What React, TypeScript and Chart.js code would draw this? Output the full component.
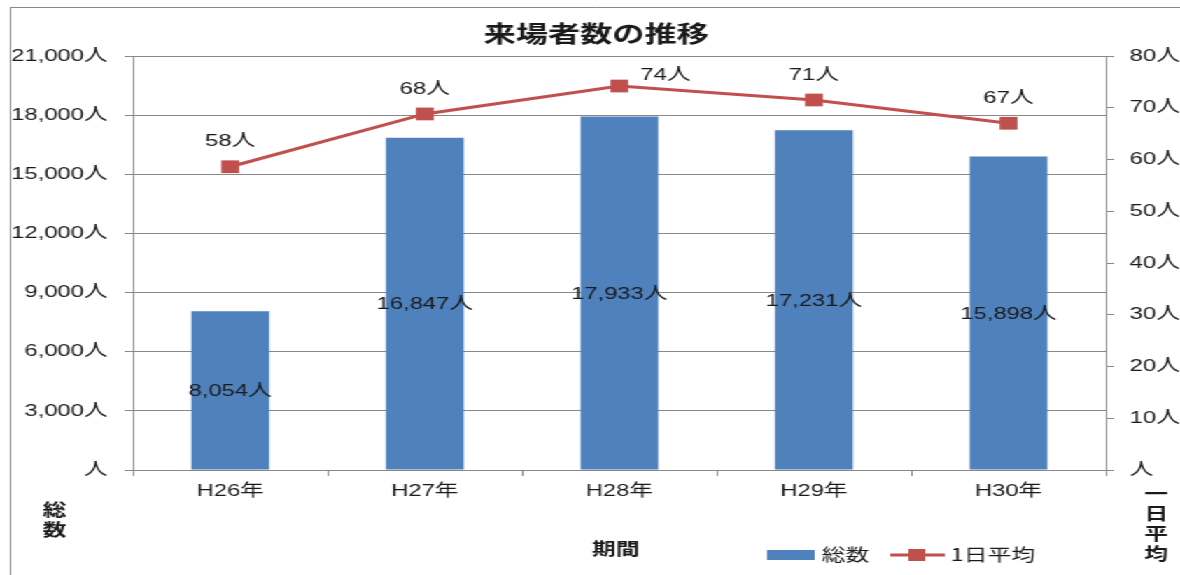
import React, { useEffect, useRef } from 'react';
import { Chart, registerables } from 'chart.js';

Chart.register(...registerables);

// ---- data ----
const categories = ['H26年', 'H27年', 'H28年', 'H29年', 'H30年'];
const totalVisitors = [8054, 16847, 17933, 17231, 15898];
const dailyAverage = [58.6, 68.8, 74.2, 71.5, 67.0];
const leftAxisMax = 21000;
const leftAxisStep = 3000;
const rightAxisMax = 80;
const rightAxisStep = 10;
const chartTitle = '来場者数の推移';
const xAxisTitle = '期間';
const leftAxisTitle = ['総', '数'];
const rightAxisTitle = ['一', '日', '平', '均'];
const barSeriesName = '総数';
const lineSeriesName = '1日平均';

// ---- styling ----
const W = 843;
const H = 575;
const SX = 1180 / W;
const BLUE = '#4F81BD';
const RED = '#C0504D';
const GRID = '#888888';
const TEXT = '#1a1a1a';
const FAMILY = '"Liberation Sans", "Noto Sans CJK JP", sans-serif';
const CJK = '"Noto Sans CJK JP", sans-serif';

const fmt = (v: number) => (v === 0 ? '人' : v.toLocaleString('en-US') + '人');

const decorPlugin = {
  id: 'decor',
  beforeDraw(chart: any) {
    const ctx = chart.ctx;
    ctx.save();
    ctx.fillStyle = '#ffffff';
    ctx.fillRect(0, 0, W, H);
    ctx.strokeStyle = GRID;
    ctx.lineWidth = 1;
    ctx.beginPath();
    ctx.moveTo(7.5, H);
    ctx.lineTo(7.5, 7.5);
    ctx.lineTo(W, 7.5);
    ctx.stroke();
    ctx.restore();
  },
  afterDatasetsDraw(chart: any) {
    const ctx = chart.ctx;
    const area = chart.chartArea;
    ctx.save();
    ctx.fillStyle = TEXT;
    ctx.font = `17px ${FAMILY}`;
    ctx.textBaseline = 'middle';
    // bar labels
    const barMeta = chart.getDatasetMeta(0);
    barMeta.data.forEach((bar: any, i: number) => {
      ctx.textAlign = 'center';
      ctx.fillText(fmt(totalVisitors[i]), bar.x, (bar.y + bar.base) / 2 + 1);
    });
    // line labels
    const lineMeta = chart.getDatasetMeta(1);
    lineMeta.data.forEach((pt: any, i: number) => {
      const txt = Math.floor(dailyAverage[i]) + '人';
      const ly = pt.y - 25;
      if (ly - 9 < area.top) {
        ctx.textAlign = 'left';
        ctx.fillText(txt, pt.x + 15, pt.y - 11);
      } else {
        ctx.textAlign = 'center';
        ctx.fillText(txt, pt.x, ly);
      }
    });
    ctx.restore();
  },
  afterDraw(chart: any) {
    const ctx = chart.ctx;
    ctx.save();
    ctx.fillStyle = TEXT;
    ctx.textBaseline = 'middle';
    ctx.textAlign = 'center';
    // title
    ctx.font = `bold 23px ${CJK}`;
    ctx.fillText(chartTitle, 426, 33);
    // axis titles
    ctx.font = `bold 17px ${CJK}`;
    ctx.fillText(xAxisTitle, 440, 549);
    leftAxisTitle.forEach((c, i) => ctx.fillText(c, 39, 510 + i * 20));
    rightAxisTitle.forEach((c, i) => ctx.fillText(c, 826, 494 + i * 20));
    // legend
    ctx.fillStyle = BLUE;
    ctx.fillRect(548, 550, 34, 10);
    ctx.fillStyle = TEXT;
    ctx.font = `17px ${CJK}`;
    ctx.textAlign = 'left';
    ctx.fillText(barSeriesName, 587, 555);
    ctx.strokeStyle = RED;
    ctx.lineWidth = 3;
    ctx.beginPath();
    ctx.moveTo(636, 555);
    ctx.lineTo(675, 555);
    ctx.stroke();
    ctx.fillStyle = RED;
    ctx.fillRect(649, 549, 12, 12);
    ctx.fillStyle = TEXT;
    ctx.fillText(lineSeriesName, 679, 555);
    ctx.restore();
  },
};

export default function App() {
  const ref = useRef<HTMLCanvasElement>(null);
  useEffect(() => {
    document.body.style.margin = '0';
    document.body.style.overflow = 'hidden';
    const tickFont = { family: FAMILY, size: 17 };
    const chart = new Chart(ref.current as HTMLCanvasElement, {
      type: 'bar',
      data: {
        labels: categories,
        datasets: [
          {
            type: 'bar',
            label: barSeriesName,
            data: totalVisitors,
            backgroundColor: BLUE,
            barPercentage: 0.4,
            categoryPercentage: 1.0,
            yAxisID: 'y',
            order: 2,
          } as any,
          {
            type: 'line',
            label: lineSeriesName,
            data: dailyAverage,
            borderColor: RED,
            backgroundColor: RED,
            borderWidth: 3,
            pointStyle: 'rect',
            pointRadius: 9,
            pointBorderWidth: 0,
            pointBackgroundColor: RED,
            yAxisID: 'y1',
            order: 1,
          } as any,
        ],
      },
      options: {
        responsive: false,
        animation: false,
        devicePixelRatio: 1,
        layout: { padding: { left: 0, right: 0, top: 56, bottom: 0 } },
        plugins: {
          legend: { display: false },
          title: { display: false },
          tooltip: { enabled: false },
        },
        scales: {
          x: {
            offset: true,
            grid: {
              display: true,
              offset: true,
              drawOnChartArea: false,
              drawTicks: true,
              tickLength: 6,
              color: GRID,
            },
            border: { display: true, color: GRID, width: 1 },
            ticks: { font: tickFont, color: TEXT, padding: 5, maxRotation: 0 },
            afterFit: (s: any) => {
              s.height = 105;
            },
          },
          y: {
            position: 'left',
            min: 0,
            max: leftAxisMax,
            grid: { color: GRID, lineWidth: 1, tickLength: 6, drawTicks: true },
            border: { display: true, color: GRID, width: 1 },
            ticks: {
              stepSize: leftAxisStep,
              font: tickFont,
              color: TEXT,
              padding: 12,
              callback: (v: any) => fmt(Number(v)),
            },
            afterFit: (s: any) => {
              s.width = 95;
            },
          },
          y1: {
            position: 'right',
            min: 0,
            max: rightAxisMax,
            grid: { drawOnChartArea: false, tickLength: 6, drawTicks: true, color: GRID },
            border: { display: true, color: GRID, width: 1 },
            ticks: {
              stepSize: rightAxisStep,
              font: tickFont,
              color: TEXT,
              padding: 11,
              callback: (v: any) => fmt(Number(v)),
            },
            afterFit: (s: any) => {
              s.width = 53;
            },
          },
        },
      } as any,
      plugins: [decorPlugin],
    });
    return () => chart.destroy();
  }, []);
  return (
    <div
      style={{
        width: W,
        height: H,
        transform: `scaleX(${SX})`,
        transformOrigin: '0 0',
        background: '#fff',
      }}
    >
      <canvas ref={ref} width={W} height={H} style={{ display: 'block' }} />
    </div>
  );
}
